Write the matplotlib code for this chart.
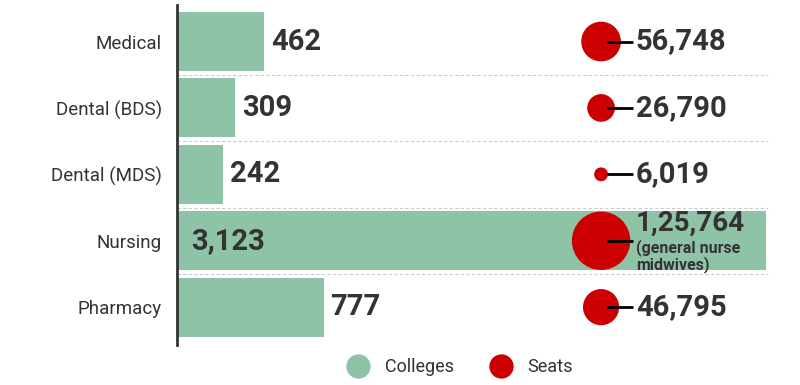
import matplotlib.pyplot as plt
import matplotlib.transforms as mtransforms
from matplotlib.lines import Line2D

categories = ["Medical", "Dental (BDS)", "Dental (MDS)", "Nursing", "Pharmacy"]
colleges = [462, 309, 242, 3123, 777]
seats = [56748, 26790, 6019, 125764, 46795]
seat_notes = ["", "", "", "(general nurse\nmidwives)", ""]

GREEN = "#8fc3a8"
RED = "#cc0000"
TEXT = "#333333"

plt.rcParams['font.family'] = ['Roboto', 'DejaVu Sans']


# Indian style grouping: 1,25,764
def indian_format(n):
    s = str(n)
    if len(s) <= 3:
        return s
    head, tail = s[:-3], s[-3:]
    parts = []
    while len(head) > 2:
        parts.insert(0, head[-2:])
        head = head[:-2]
    if head:
        parts.insert(0, head)
    return ",".join(parts) + "," + tail


fig = plt.figure(figsize=(8, 3.85), dpi=100)
ax = fig.add_axes([177 / 800, 1 - 345 / 385, 589 / 800, 340 / 385])

y = list(range(len(categories)))
ax.barh(y, colleges, height=0.89, color=GREEN, zorder=2)
ax.set_xlim(0, max(colleges))
ax.set_ylim(4.57, -0.55)

for spine in ["top", "right", "bottom"]:
    ax.spines[spine].set_visible(False)
ax.spines["left"].set_color(TEXT)
ax.spines["left"].set_linewidth(2)
ax.set_xticks([])
ax.set_yticks(y)
ax.set_yticklabels(categories, fontsize=13.5, color=TEXT)
ax.tick_params(axis="y", length=0, pad=11)

# dashed row separators
for k in range(len(categories) - 1):
    ax.axhline(k + 0.5, xmin=0, xmax=1.003, color="#cccccc", linestyle=(0, (3, 2)),
               linewidth=0.8, zorder=1, clip_on=False)

# college value labels
for i, v in enumerate(colleges):
    if v == max(colleges):
        ax.annotate(indian_format(v), xy=(0, i), xytext=(10, 0), textcoords="offset points",
                    ha="left", va="center", fontsize=21, fontweight="bold", color=TEXT, zorder=4)
    else:
        ax.annotate(indian_format(v), xy=(v, i), xytext=(5, 0), textcoords="offset points",
                    ha="left", va="center", fontsize=21, fontweight="bold", color=TEXT, zorder=4)

# seat bubbles
blend = mtransforms.blended_transform_factory(ax.transAxes, ax.transData)
bx, lx, tx = 0.72, 0.774, 0.779
ax.scatter([bx] * len(seats), y, s=[v * 0.0134 for v in seats], color=RED,
           transform=blend, zorder=3, clip_on=False)
for i, v in enumerate(seats):
    ax.plot([bx + 0.01, lx], [i, i], color="black", linewidth=2, transform=blend, zorder=5,
            solid_capstyle="butt")
    if seat_notes[i]:
        ax.annotate(indian_format(v), xy=(tx, i), xycoords=blend, xytext=(0, 13),
                    textcoords="offset points", ha="left", va="center",
                    fontsize=20, fontweight="bold", color=TEXT, zorder=5)
        ax.annotate(seat_notes[i], xy=(tx, i), xycoords=blend, xytext=(0, 1),
                    textcoords="offset points", ha="left", va="top", linespacing=1.0,
                    fontsize=11.5, fontweight="bold", color=TEXT, zorder=5)
    else:
        ax.annotate(indian_format(v), xy=(tx, i), xycoords=blend, ha="left", va="center",
                    fontsize=21, fontweight="bold", color=TEXT, zorder=5)

handles = [
    Line2D([], [], marker="o", linestyle="", markersize=16.5, color=GREEN, label="Colleges"),
    Line2D([], [], marker="o", linestyle="", markersize=16.5, color=RED, label="Seats"),
]
fig.legend(handles=handles, loc="center", bbox_to_anchor=(0.575, 1 - 367 / 385), ncol=2,
           frameon=False, fontsize=13, labelcolor=TEXT, handletextpad=0.9, columnspacing=2.0,
           handlelength=1.2)

fig.savefig("out.png", dpi=100)
